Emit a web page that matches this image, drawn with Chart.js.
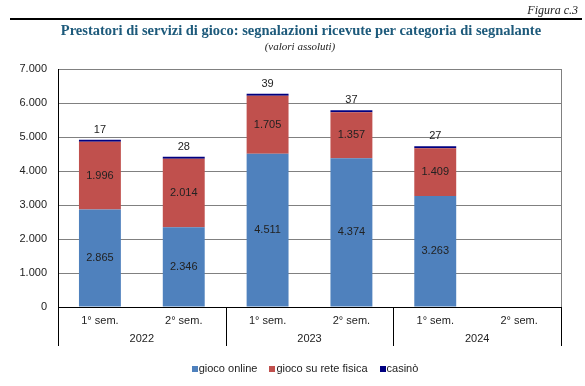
<!DOCTYPE html>
<html>
<head>
<meta charset="utf-8">
<script src="https://cdn.jsdelivr.net/npm/chart.js@4/dist/chart.umd.min.js"></script>
<style>
  html, body { margin: 0; padding: 0; background: #fff; }
  #wrap { position: relative; width: 585px; height: 386px; overflow: hidden; }
  #fig { position: absolute; right: 7px; top: 3px; font: italic 12px "Liberation Serif", serif; color: #222; }
  #rule { position: absolute; left: 10px; right: 3px; top: 18px; height: 2px; background: #000; }
  #title { position: absolute; left: 0; width: 602px; top: 22px; text-align: center; font: bold 14.5px "Liberation Serif", serif; color: #1d5a7b; }
  #sub { position: absolute; left: 0; width: 600px; top: 40px; text-align: center; font: italic 11px "Liberation Serif", serif; color: #222; }
  #legend { position: absolute; left: 0; width: 610px; top: 362px; text-align: center; font: 11px "Liberation Sans", Arial, sans-serif; color: #222; }
  #legend span.item { margin: 0 6px; white-space: nowrap; }
  #legend span.box { display: inline-block; width: 6px; height: 6px; margin-right: 1px; vertical-align: 0px; }
  canvas { position: absolute; left: 0; top: 0; }
</style>
</head>
<body>
<div id="wrap">
  <canvas id="c" width="585" height="386"></canvas>
  <div id="fig">Figura c.3</div>
  <div id="rule"></div>
  <div id="title">Prestatori di servizi di gioco: segnalazioni ricevute per categoria di segnalante</div>
  <div id="sub">(valori assoluti)</div>
  <div id="legend"></div>
</div>
<script>
// ---- data ----
const semesters = ["1° sem.", "2° sem.", "1° sem.", "2° sem.", "1° sem.", "2° sem."];
const years = ["2022", "2023", "2024"];
const seriesNames = ["gioco online", "gioco su rete fisica", "casinò"];
const giocoOnline = [2865, 2346, 4511, 4374, 3263, null];
const reteFisica = [1996, 2014, 1705, 1357, 1409, null];
const casino = [17, 28, 39, 37, 27, null];
const yTicks = [0, 1000, 2000, 3000, 4000, 5000, 6000, 7000];
const colors = ["#4f81bd", "#c0504d", "#000080"];

const fmt = v => v.toString().replace(/\B(?=(\d{3})+(?!\d))/g, ".");

// legend (HTML)
const lg = document.getElementById("legend");
seriesNames.forEach((n, i) => {
  const it = document.createElement("span");
  it.className = "item";
  const b = document.createElement("span");
  b.className = "box";
  b.style.background = colors[i];
  it.appendChild(b);
  it.appendChild(document.createTextNode(n));
  lg.appendChild(it);
});

const labelPlugin = {
  id: "labels",
  afterDatasetsDraw(chart) {
    const ctx = chart.ctx;
    ctx.save();
    ctx.font = "11px 'Liberation Sans', Arial, sans-serif";
    ctx.fillStyle = "#222";
    ctx.textAlign = "center";
    ctx.textBaseline = "middle";
    chart.data.datasets.forEach((ds, di) => {
      const meta = chart.getDatasetMeta(di);
      meta.data.forEach((el, i) => {
        const v = ds.data[i];
        if (v == null) return;
        if (di < 2) {
          ctx.fillText(fmt(v), el.x, (el.y + el.base) / 2);
        } else {
          ctx.fillText(fmt(v), el.x, Math.min(el.y, el.base) - 10);
        }
      });
    });
    ctx.restore();
  }
};

const sepPlugin = {
  id: "separators",
  beforeDatasetsDraw(chart) {
    const ca = chart.chartArea;
    const ctx = chart.ctx;
    ctx.save();
    ctx.strokeStyle = "#808080";
    ctx.lineWidth = 1;
    ctx.beginPath();
    ctx.moveTo(Math.round(ca.right) + 0.5, ca.top);
    ctx.lineTo(Math.round(ca.right) + 0.5, ca.bottom);
    ctx.stroke();
    ctx.restore();
  },
  afterDraw(chart) {
    const x2 = chart.scales.x2;
    const ctx = chart.ctx;
    const ca = chart.chartArea;
    const half = (x2.getPixelForValue(1) - x2.getPixelForValue(0)) / 2;
    ctx.save();
    ctx.strokeStyle = "#000";
    ctx.lineWidth = 1;
    for (let i = 0; i <= years.length; i++) {
      const px = Math.round(x2.getPixelForValue(i) - half) + 0.5;
      ctx.beginPath();
      ctx.moveTo(px, ca.bottom);
      ctx.lineTo(px, x2.bottom - 1);
      ctx.stroke();
    }
    ctx.restore();
  }
};

new Chart(document.getElementById("c"), {
  type: "bar",
  data: {
    labels: semesters,
    datasets: [
      { label: seriesNames[0], data: giocoOnline, backgroundColor: colors[0], stack: "s" },
      { label: seriesNames[1], data: reteFisica, backgroundColor: colors[1], stack: "s" },
      { label: seriesNames[2], data: casino, backgroundColor: colors[2], stack: "s", minBarLength: 2 }
    ]
  },
  options: {
    responsive: false,
    animation: false,
    events: [],
    layout: { padding: { left: 0, right: 24, top: 69, bottom: 39 } },
    datasets: { bar: { categoryPercentage: 1.0, barPercentage: 0.5 } },
    plugins: { legend: { display: false }, tooltip: { enabled: false } },
    scales: {
      x: {
        stacked: true,
        grid: { display: false, drawTicks: false },
        border: { display: true, color: "#000", width: 1 },
        ticks: { color: "#222", font: { family: "'Liberation Sans', Arial, sans-serif", size: 11 }, padding: 7, maxRotation: 0, autoSkip: false },
        afterFit: s => { s.height = 20; }
      },
      x2: {
        type: "category",
        labels: years,
        position: "bottom",
        offset: true,
        grid: { display: false, drawTicks: false },
        border: { display: false },
        ticks: { color: "#222", font: { family: "'Liberation Sans', Arial, sans-serif", size: 11 }, padding: 5, maxRotation: 0 },
        afterFit: s => { s.height = 20; }
      },
      y: {
        stacked: true,
        min: 0,
        max: 7000,
        afterBuildTicks: s => { s.ticks = yTicks.map(v => ({ value: v })); },
        grid: { color: "#808080", drawTicks: false },
        border: { display: true, color: "#000", width: 1 },
        ticks: { color: "#222", font: { family: "'Liberation Sans', Arial, sans-serif", size: 11 }, padding: 11, callback: v => fmt(v) },
        afterFit: s => { s.width = 58; }
      }
    }
  },
  plugins: [labelPlugin, sepPlugin]
});
</script>
</body>
</html>
